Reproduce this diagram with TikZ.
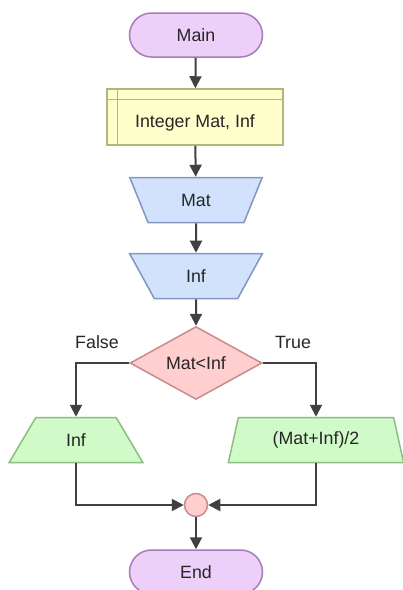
\documentclass[tikz,border=0pt]{standalone}
\usepackage{fontspec}
\setmainfont{Liberation Sans}
\usetikzlibrary{shapes.geometric,arrows.meta}
\definecolor{termfill}{RGB}{236,208,250}
\definecolor{termdraw}{RGB}{165,125,185}
\definecolor{declfill}{RGB}{255,255,204}
\definecolor{decldraw}{RGB}{180,180,125}
\definecolor{infill}{RGB}{210,226,252}
\definecolor{indraw}{RGB}{130,150,190}
\definecolor{condfill}{RGB}{255,206,206}
\definecolor{conddraw}{RGB}{200,140,140}
\definecolor{outfill}{RGB}{208,250,200}
\definecolor{outdraw}{RGB}{140,190,130}
\definecolor{flow}{RGB}{64,64,64}

\begin{document}
\begin{tikzpicture}[x=1pt, y=-1pt,
    every node/.style={font=\fontsize{17.8}{21}\selectfont, text=black!85, inner sep=0pt},
    term/.style={draw=termdraw, fill=termfill, line width=1.5pt, rounded corners=22pt,
      minimum width=133pt, minimum height=44pt},
    declbox/.style={draw=decldraw, fill=declfill, line width=1.5pt,
      minimum width=176pt, minimum height=56pt},
    inbox/.style={trapezium, trapezium stretches=true, shape border rotate=180,
      draw=indraw, fill=infill, line width=1.5pt, minimum width=133pt, minimum height=45pt,
      trapezium left angle=65.5, trapezium right angle=65.5},
    outbox/.style={trapezium, trapezium stretches=true,
      draw=outdraw, fill=outfill, line width=1.5pt, minimum height=45pt},
    cond/.style={diamond, draw=conddraw, fill=condfill, line width=1.5pt,
      minimum width=132pt, minimum height=65pt},
    joint/.style={circle, draw=conddraw, fill=condfill, line width=1.5pt, minimum size=23pt},
    flowline/.style={draw=flow, line width=2pt, -{Triangle[length=12pt,width=12pt]}},
  ]
  \useasboundingbox (0,0) rectangle (403,590);

  \node[term] (main) at (196,35) {Main};
  \node[declbox] (decl) at (195,117) {};
  \draw[draw=decldraw, line width=1.5pt] ([yshift=-11pt]decl.north west) -- ([yshift=-11pt]decl.north east);
  \draw[draw=decldraw, line width=1.5pt] ([xshift=11pt]decl.north west) -- ([xshift=11pt]decl.south west);
  \node (decltext) at ([yshift=-5.5pt]decl.center) {Integer Mat, Inf};
  \node[inbox] (mat) at (196,200) {Mat};
  \node[inbox] (inf) at (196,276) {Inf};
  \node[cond] (test) at (196,363) {Mat<Inf};
  \node (nolab) at (97,342) {False};
  \node (yeslab) at (293,342) {True};
  \node[outbox, minimum width=134pt, trapezium left angle=63, trapezium right angle=63] (nope) at (76,440) {Inf};
  \node[outbox, minimum width=176pt, trapezium left angle=71.5, trapezium right angle=71.5] (yes) at (316,440) {(Mat+Inf)/2};
  \node[joint] (join) at (196,505) {};
  \node[term] (stop) at (196,572) {End};

  \draw[flowline] (main) -- (decl);
  \draw[flowline] (decl) -- (mat);
  \draw[flowline] (mat) -- (inf);
  \draw[flowline] (inf) -- (test);
  \draw[flowline] (test.west) -| (nope);
  \draw[flowline] (test.east) -| (yes);
  \draw[flowline] (nope) |- (join);
  \draw[flowline] (yes) |- (join);
  \draw[flowline] (join) -- (stop);
\end{tikzpicture}
\end{document}
